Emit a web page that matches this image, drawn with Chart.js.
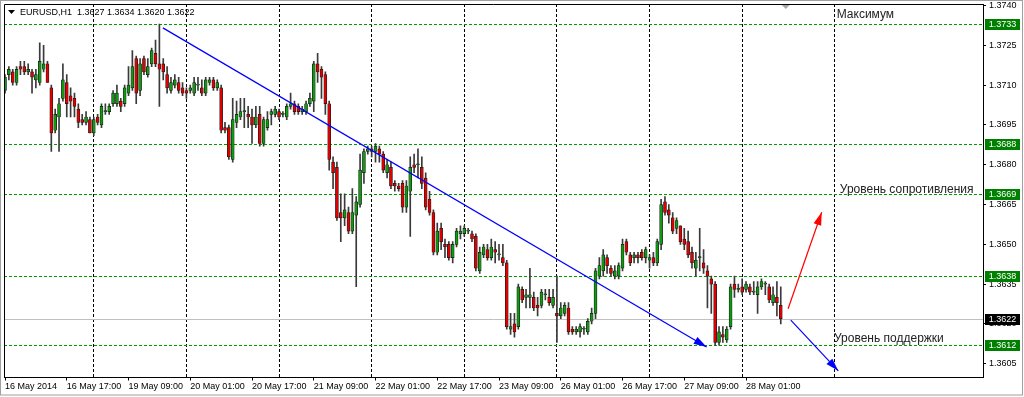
<!DOCTYPE html>
<html>
<head>
<meta charset="utf-8">
<script src="https://cdn.jsdelivr.net/npm/chart.js@4.4.1/dist/chart.umd.min.js"></script>
<style>
html, body { margin: 0; padding: 0; background: #fff; }
canvas { display: block; }
</style>
</head>
<body>
<canvas id="eurusd" width="1024" height="397"></canvas>
<script>
// EURUSD H1, 16-28 May 2014 : one value per hourly bar
const symbol = 'EURUSD,H1';

const opens = [
  1.3708,1.3714,1.3715,1.3711,1.3717,1.3717,1.3715,1.3715,1.3712,1.3711,
  1.3716,1.3718,1.3709,1.3693,1.3698,1.3705,1.3711,1.3706,1.3705,1.3701,
  1.3697,1.3696,1.3697,1.3692,1.3698,1.3695,1.3700,1.3700,1.3703,1.3703,
  1.3704,1.3703,1.3707,1.3709,1.3720,1.3708,1.3720,1.3714,1.3718,1.3722,
  1.3718,1.3718,1.3714,1.3708,1.3710,1.3711,1.3709,1.3708,1.3708,1.3707,
  1.3710,1.3709,1.3707,1.3711,1.3712,1.3709,1.3709,1.3694,1.3694,1.3682,
  1.3696,1.3698,1.3700,1.3699,1.3698,1.3695,1.3699,1.3688,1.3694,1.3699,
  1.3699,1.3700,1.3699,1.3698,1.3702,1.3703,1.3702,1.3700,1.3700,1.3703,
  1.3704,1.3718,1.3716,1.3714,1.3703,1.3681,1.3679,1.3662,1.3660,1.3662,
  1.3655,1.3661,1.3665,1.3677,1.3685,1.3686,1.3685,1.3686,1.3684,1.3677,
  1.3679,1.3673,1.3672,1.3673,1.3664,1.3670,1.3680,1.3680,1.3679,1.3675,
  1.3667,1.3662,1.3647,1.3656,1.3650,1.3650,1.3645,1.3650,1.3654,1.3654,
  1.3655,1.3654,1.3653,1.3640,1.3646,1.3648,1.3645,1.3648,1.3646,1.3645,
  1.3643,1.3618,1.3620,1.3619,1.3633,1.3630,1.3630,1.3630,1.3627,1.3627,
  1.3631,1.3630,1.3627,1.3624,1.3623,1.3624,1.3626,1.3618,1.3617,1.3617,
  1.3618,1.3617,1.3621,1.3624,1.3638,1.3640,1.3645,1.3641,1.3638,1.3638,
  1.3641,1.3651,1.3646,1.3645,1.3646,1.3647,1.3645,1.3644,1.3645,1.3643,
  1.3650,1.3666,1.3663,1.3660,1.3656,1.3657,1.3652,1.3651,1.3647,1.3641,
  1.3645,1.3643,1.3640,1.3637,1.3635,1.3613,1.3616,1.3614,1.3619,1.3635,
  1.3633,1.3634,1.3633,1.3634,1.3632,1.3631,1.3634,1.3635,1.3634,1.3628,
  1.3630,1.3627
];
const highs = [
  1.3714,1.3717,1.3716,1.3717,1.3719,1.3719,1.3718,1.3716,1.3716,1.3726,
  1.3725,1.3719,1.3710,1.3701,1.3705,1.3718,1.3714,1.3709,1.3707,1.3703,
  1.3699,1.3700,1.3698,1.3698,1.3699,1.3703,1.3703,1.3703,1.3708,1.3710,
  1.3705,1.3710,1.3717,1.3723,1.3721,1.3720,1.3721,1.3720,1.3724,1.3727,
  1.3733,1.3720,1.3717,1.3713,1.3714,1.3713,1.3711,1.3709,1.3710,1.3713,
  1.3713,1.3712,1.3713,1.3713,1.3713,1.3712,1.3710,1.3696,1.3695,1.3705,
  1.3704,1.3705,1.3705,1.3702,1.3701,1.3702,1.3702,1.3698,1.3700,1.3701,
  1.3702,1.3701,1.3700,1.3703,1.3707,1.3704,1.3703,1.3702,1.3704,1.3707,
  1.3719,1.3722,1.3717,1.3715,1.3704,1.3683,1.3681,1.3669,1.3669,1.3664,
  1.3671,1.3668,1.3684,1.3686,1.3687,1.3687,1.3688,1.3687,1.3685,1.3682,
  1.3681,1.3674,1.3673,1.3674,1.3674,1.3683,1.3684,1.3686,1.3683,1.3677,
  1.3670,1.3663,1.3658,1.3658,1.3652,1.3651,1.3651,1.3656,1.3657,1.3657,
  1.3656,1.3655,1.3654,1.3649,1.3650,1.3650,1.3652,1.3651,1.3650,1.3650,
  1.3644,1.3624,1.3624,1.3635,1.3634,1.3633,1.3641,1.3632,1.3630,1.3633,
  1.3633,1.3633,1.3633,1.3638,1.3628,1.3628,1.3628,1.3619,1.3619,1.3620,
  1.3619,1.3622,1.3626,1.3641,1.3645,1.3648,1.3646,1.3642,1.3642,1.3643,
  1.3652,1.3652,1.3647,1.3647,1.3647,1.3648,1.3649,1.3646,1.3647,1.3652,
  1.3667,1.3668,1.3665,1.3662,1.3660,1.3657,1.3656,1.3655,1.3649,1.3647,
  1.3656,1.3648,1.3642,1.3638,1.3636,1.3619,1.3619,1.3619,1.3635,1.3638,
  1.3635,1.3637,1.3636,1.3635,1.3636,1.3636,1.3637,1.3636,1.3635,1.3634,
  1.3636,1.3634
];
const lows = [
  1.3707,1.3712,1.3710,1.3710,1.3714,1.3714,1.3714,1.3707,1.3709,1.3710,
  1.3715,1.3711,1.3685,1.3692,1.3685,1.3704,1.3698,1.3698,1.3698,1.3694,
  1.3695,1.3695,1.3692,1.3691,1.3695,1.3694,1.3699,1.3699,1.3702,1.3702,
  1.3700,1.3702,1.3706,1.3708,1.3703,1.3706,1.3714,1.3713,1.3717,1.3717,
  1.3702,1.3712,1.3707,1.3707,1.3709,1.3707,1.3706,1.3705,1.3707,1.3706,
  1.3708,1.3706,1.3706,1.3710,1.3708,1.3708,1.3692,1.3692,1.3682,1.3681,
  1.3694,1.3697,1.3694,1.3694,1.3688,1.3694,1.3687,1.3687,1.3693,1.3695,
  1.3698,1.3697,1.3698,1.3697,1.3701,1.3699,1.3699,1.3699,1.3699,1.3702,
  1.3700,1.3711,1.3705,1.3699,1.3678,1.3671,1.3659,1.3651,1.3657,1.3654,
  1.3654,1.3634,1.3664,1.3673,1.3684,1.3683,1.3681,1.3681,1.3677,1.3675,
  1.3671,1.3670,1.3670,1.3662,1.3662,1.3653,1.3677,1.3675,1.3671,1.3663,
  1.3661,1.3646,1.3646,1.3648,1.3645,1.3644,1.3643,1.3649,1.3652,1.3653,
  1.3654,1.3651,1.3640,1.3639,1.3645,1.3644,1.3644,1.3643,1.3644,1.3642,
  1.3618,1.3616,1.3615,1.3618,1.3628,1.3626,1.3626,1.3625,1.3623,1.3626,
  1.3629,1.3627,1.3626,1.3613,1.3622,1.3623,1.3616,1.3616,1.3616,1.3615,
  1.3616,1.3616,1.3620,1.3622,1.3637,1.3638,1.3639,1.3638,1.3637,1.3637,
  1.3640,1.3646,1.3642,1.3643,1.3643,1.3644,1.3643,1.3641,1.3642,1.3642,
  1.3648,1.3661,1.3658,1.3654,1.3654,1.3650,1.3648,1.3645,1.3641,1.3638,
  1.3640,1.3639,1.3626,1.3624,1.3612,1.3612,1.3613,1.3613,1.3618,1.3630,
  1.3632,1.3631,1.3632,1.3631,1.3631,1.3624,1.3633,1.3631,1.3628,1.3627,
  1.3623,1.3620
];
const closes = [
  1.3713,1.3716,1.3711,1.3716,1.3716,1.3715,1.3716,1.3713,1.3714,1.3719,
  1.3718,1.3711,1.3692,1.3699,1.3703,1.3712,1.3703,1.3704,1.3702,1.3696,
  1.3696,1.3698,1.3692,1.3697,1.3696,1.3702,1.3700,1.3702,1.3707,1.3707,
  1.3702,1.3709,1.3710,1.3717,1.3707,1.3718,1.3715,1.3717,1.3723,1.3718,
  1.3716,1.3715,1.3709,1.3711,1.3712,1.3708,1.3707,1.3707,1.3709,1.3711,
  1.3710,1.3707,1.3712,1.3712,1.3709,1.3711,1.3693,1.3693,1.3683,1.3697,
  1.3699,1.3700,1.3700,1.3698,1.3695,1.3698,1.3688,1.3697,1.3697,1.3700,
  1.3701,1.3698,1.3699,1.3702,1.3703,1.3700,1.3700,1.3701,1.3703,1.3705,
  1.3718,1.3715,1.3713,1.3703,1.3682,1.3677,1.3660,1.3660,1.3663,1.3655,
  1.3662,1.3666,1.3678,1.3685,1.3686,1.3685,1.3687,1.3684,1.3678,1.3680,
  1.3672,1.3672,1.3671,1.3664,1.3672,1.3679,1.3679,1.3680,1.3673,1.3664,
  1.3662,1.3647,1.3655,1.3651,1.3649,1.3645,1.3650,1.3655,1.3655,1.3656,
  1.3655,1.3652,1.3641,1.3647,1.3649,1.3645,1.3649,1.3647,1.3646,1.3643,
  1.3619,1.3619,1.3617,1.3634,1.3629,1.3631,1.3631,1.3626,1.3626,1.3632,
  1.3631,1.3628,1.3630,1.3623,1.3626,1.3627,1.3617,1.3617,1.3618,1.3619,
  1.3618,1.3621,1.3624,1.3640,1.3642,1.3646,1.3642,1.3639,1.3640,1.3642,
  1.3650,1.3647,1.3643,1.3646,1.3645,1.3645,1.3648,1.3645,1.3643,1.3651,
  1.3665,1.3662,1.3661,1.3655,1.3659,1.3651,1.3650,1.3646,1.3643,1.3644,
  1.3645,1.3641,1.3638,1.3635,1.3613,1.3617,1.3615,1.3618,1.3634,1.3633,
  1.3633,1.3632,1.3635,1.3632,1.3632,1.3634,1.3636,1.3635,1.3629,1.3631,
  1.3628,1.3622
];

// time axis: label every 16 bars, day separators every 24 bars
const timeLabels = ['16 May 2014', '16 May 17:00', '19 May 09:00', '20 May 01:00', '20 May 17:00',
  '21 May 09:00', '22 May 01:00', '22 May 17:00', '23 May 09:00', '26 May 01:00',
  '26 May 17:00', '27 May 09:00', '28 May 01:00'];
const timeLabelBars = [0, 16, 32, 48, 64, 80, 96, 112, 128, 144, 160, 176, 192];
const dayStartBars = [23, 47, 71, 95, 119, 143, 167, 191, 215];

const priceTicks = [1.3740, 1.3725, 1.3710, 1.3695, 1.3680, 1.3665, 1.3650, 1.3635, 1.3620, 1.3605];

// horizontal levels and current bid
const levels = [1.3733, 1.3688, 1.3669, 1.3638, 1.3612];
const bidPrice = 1.3622;

// drawn objects (bar index, price)
const trendLine = [{ x: 40.9, y: 1.37316 }, { x: 181.8, y: 1.36113 }];
const downArrow = [{ x: 203.6, y: 1.36214 }, { x: 215.9, y: 1.36023 }];
const upArrow = [{ x: 202.9, y: 1.36257 }, { x: 211.6, y: 1.36621 }];

const noteTexts = ['Максимум', 'Уровень сопротивления', 'Уровень поддержки'];
const noteBars = [215.5, 216.3, 214.8];
const notePrices = [1.37365, 1.36707, 1.36146];

const FONT = '"Liberation Sans", Arial, sans-serif';
Chart.defaults.font.family = FONT;
Chart.defaults.color = '#000';

const bodies = opens.map((o, i) => ({ x: i, y: [o, closes[i]] }));
const wicks = lows.map((l, i) => ({ x: i, y: [l, highs[i]] }));
const bodyColors = opens.map((o, i) => closes[i] >= o ? '#119911' : '#e00000');

const overlay = {
    id: 'overlay',
    beforeDatasetsDraw(chart) {
        const { ctx, chartArea: a, scales: { y } } = chart;
        ctx.save();
        ctx.lineWidth = 1;
        // bid line
        let py = Math.round(y.getPixelForValue(bidPrice)) + 0.5;
        ctx.strokeStyle = '#c0c0c0';
        ctx.beginPath(); ctx.moveTo(a.left, py); ctx.lineTo(a.right, py); ctx.stroke();
        // green levels
        ctx.strokeStyle = '#009900';
        ctx.setLineDash([3, 2]);
        levels.forEach(l => {
            const ly = Math.round(y.getPixelForValue(l)) + 0.5;
            ctx.beginPath(); ctx.moveTo(a.left, ly); ctx.lineTo(a.right, ly); ctx.stroke();
        });
        ctx.restore();
    },
    afterDatasetsDraw(chart) {
        const { ctx } = chart;
        chart.data.datasets.forEach((ds, i) => {
            if (!ds.arrow) return;
            const pts = chart.getDatasetMeta(i).data;
            const p1 = pts[pts.length - 2], p2 = pts[pts.length - 1];
            const ang = Math.atan2(p2.y - p1.y, p2.x - p1.x);
            const len = 13, half = 4;
            const bx = p2.x - len * Math.cos(ang), by = p2.y - len * Math.sin(ang);
            ctx.save();
            ctx.fillStyle = ds.borderColor;
            ctx.beginPath();
            ctx.moveTo(p2.x, p2.y);
            ctx.lineTo(bx - half * Math.sin(ang), by + half * Math.cos(ang));
            ctx.lineTo(bx + half * Math.sin(ang), by - half * Math.cos(ang));
            ctx.closePath();
            ctx.fill();
            ctx.restore();
        });
    },
    afterDraw(chart) {
        const { ctx, chartArea: a, scales: { x, y } } = chart;
        ctx.save();
        // outer frame and plot frame
        ctx.strokeStyle = '#a0a0a0';
        ctx.lineWidth = 1;
        ctx.strokeRect(0.5, 0.5, 1022, 394.5);
        ctx.strokeStyle = '#000';
        ctx.beginPath();
        ctx.moveTo(a.left + 0.5, a.bottom); ctx.lineTo(a.left + 0.5, a.top + 0.5); ctx.lineTo(a.right, a.top + 0.5);
        ctx.stroke();

        // price boxes on the axis
        ctx.font = '9px ' + FONT;
        ctx.textAlign = 'center';
        ctx.textBaseline = 'middle';
        const box = (val, bg) => {
            const py = Math.round(y.getPixelForValue(val));
            ctx.fillStyle = bg;
            ctx.fillRect(a.right + 2, py - 5, 35, 11);
            ctx.fillStyle = '#fff';
            ctx.fillText(val.toFixed(4), a.right + 19.5, py + 0.5);
        };
        levels.forEach(l => box(l, '#008000'));
        box(bidPrice, '#000');

        // text notes
        ctx.font = '12px ' + FONT;
        ctx.textAlign = 'left';
        ctx.fillStyle = '#222';
        noteTexts.forEach((t, i) => {
            ctx.fillText(t, x.getPixelForValue(noteBars[i]), y.getPixelForValue(notePrices[i]));
        });

        // header
        const last = opens.length - 1;
        ctx.fillStyle = '#000';
        ctx.beginPath(); ctx.moveTo(8, 10); ctx.lineTo(15, 10); ctx.lineTo(11.5, 14); ctx.closePath(); ctx.fill();
        ctx.font = '9px ' + FONT;
        ctx.fillText(symbol + '  ' + [opens[last], highs[last], lows[last], closes[last]].map(v => v.toFixed(4)).join(' '), 20, 12.5);

        // chart shift marker
        const sx = x.getPixelForValue(202.3);
        ctx.fillStyle = '#a8a8a8';
        ctx.beginPath(); ctx.moveTo(sx - 4, a.top + 1); ctx.lineTo(sx + 4, a.top + 1); ctx.lineTo(sx, a.top + 5); ctx.closePath(); ctx.fill();
        ctx.restore();
    }
};

new Chart(document.getElementById('eurusd'), {
    type: 'bar',
    data: {
        datasets: [
            {
                type: 'line', data: trendLine, arrow: true, xAxisID: 'x', yAxisID: 'y',
                borderColor: '#0000ff', borderWidth: 1.2, pointRadius: 0, order: 0
            },
            {
                type: 'line', data: downArrow, arrow: true, xAxisID: 'x', yAxisID: 'y',
                borderColor: '#0000ff', borderWidth: 1.2, pointRadius: 0, order: 0
            },
            {
                type: 'line', data: upArrow, arrow: true, xAxisID: 'x', yAxisID: 'y',
                borderColor: '#ff0000', borderWidth: 1.2, pointRadius: 0, order: 0
            },
            {
                data: bodies, xAxisID: 'x', yAxisID: 'y', grouped: false,
                barThickness: 3, minBarLength: 1,
                backgroundColor: bodyColors, borderColor: '#1a1a1a', borderWidth: 0.7, borderSkipped: false,
                order: 1
            },
            {
                data: wicks, xAxisID: 'x', yAxisID: 'y', grouped: false,
                barThickness: 1, backgroundColor: '#3a3a3a', order: 2
            }
        ]
    },
    options: {
        responsive: false,
        animation: false,
        events: [],
        layout: { padding: { left: 4, top: 4, right: 0, bottom: 0 } },
        plugins: { legend: { display: false }, tooltip: { enabled: false } },
        scales: {
            x: {
                type: 'linear', position: 'bottom', min: -0.26, max: 253.4, offset: false,
                afterBuildTicks: s => { s.ticks = timeLabelBars.map(v => ({ value: v })); },
                afterFit: s => { s.height = 19.5; s.paddingLeft = 0; s.paddingRight = 0; },
                ticks: {
                    autoSkip: false, maxRotation: 0, align: 'start', padding: 1,
                    font: { size: 9 }, color: '#000',
                    callback: (v, i) => timeLabels[i]
                },
                grid: { drawOnChartArea: false, offset: false, tickLength: 3, color: '#000' },
                border: { color: '#000' }
            },
            xg: {
                type: 'linear', position: 'bottom', min: -0.26, max: 253.4, offset: false,
                afterBuildTicks: s => { s.ticks = dayStartBars.map(v => ({ value: v })); },
                afterFit: s => { s.height = 0; s.paddingLeft = 0; s.paddingRight = 0; },
                ticks: { display: false },
                grid: { drawTicks: false, offset: false, color: '#000', lineWidth: 1 },
                border: { display: false, dash: [3, 2] }
            },
            y: {
                type: 'linear', position: 'right', min: 1.35998, max: 1.37406,
                afterBuildTicks: s => { s.ticks = priceTicks.map(v => ({ value: v })); },
                afterFit: s => { s.width = 41; s.paddingTop = 0; s.paddingBottom = 0; },
                ticks: { padding: 3, font: { size: 9 }, color: '#000', callback: v => v.toFixed(4) },
                grid: { drawOnChartArea: false, tickLength: 3, color: '#000' },
                border: { color: '#000' }
            }
        }
    },
    plugins: [overlay]
});
</script>
</body>
</html>
